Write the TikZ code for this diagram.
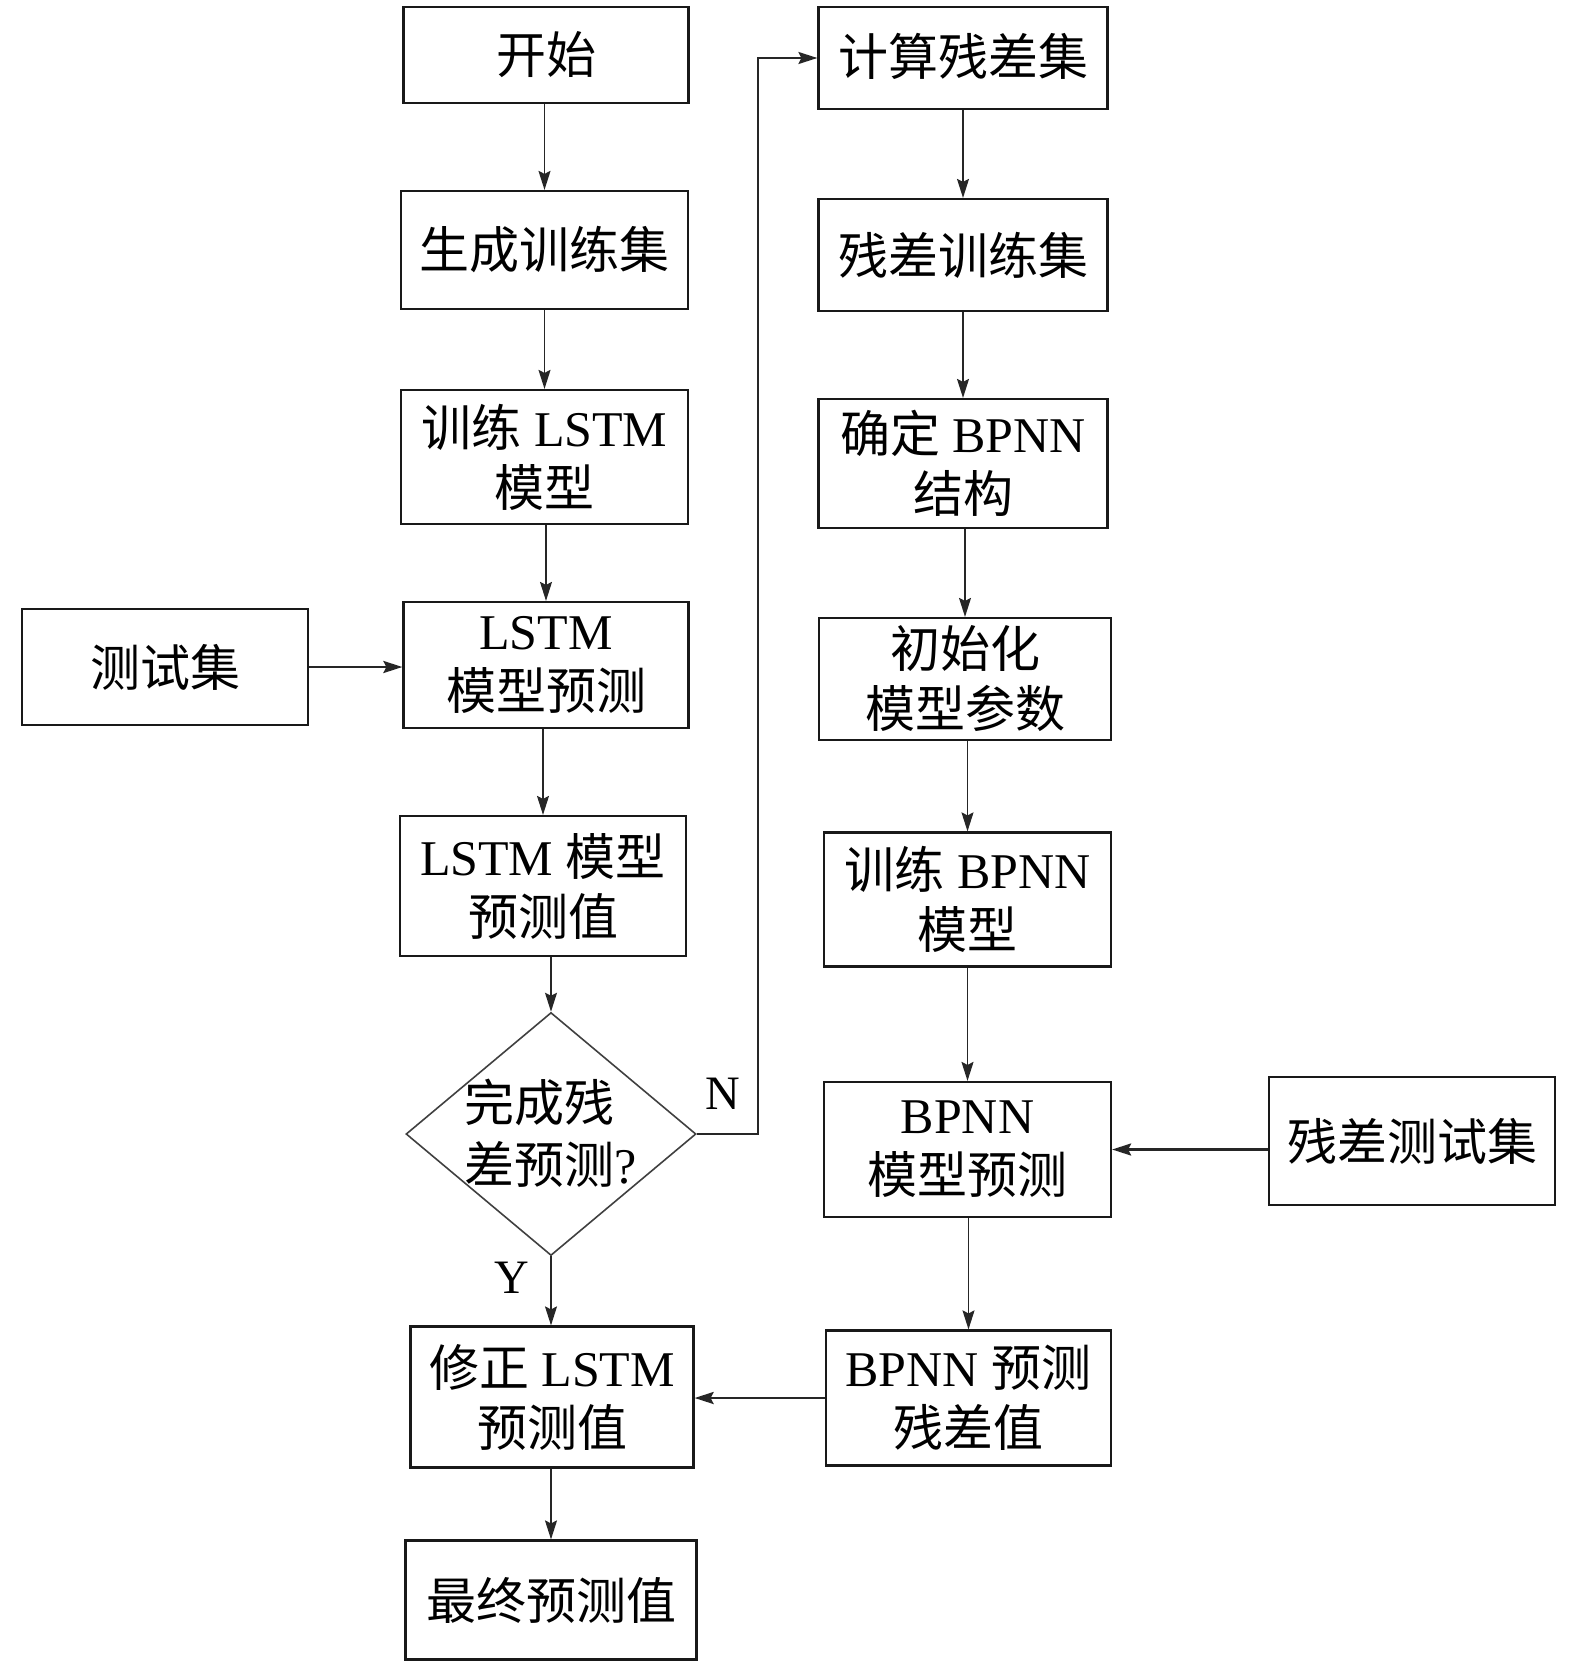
\documentclass[tikz,border=0pt]{standalone}
\usepackage{fontspec}
\setmainfont{Liberation Serif}
\newfontfamily\cjk{Noto Sans CJK SC}
\usetikzlibrary{arrows.meta,shapes.geometric}
\newcommand\zh[1]{{\cjk #1}}
\begin{document}
\begin{tikzpicture}[x=1pt,y=-1pt,
  box/.style={draw=black!90, line width=2.2pt, inner sep=0pt, align=center,
    font=\fontsize{50}{60}\selectfont},
  decbox/.style={draw=black!75, line width=1.6pt, diamond, aspect=1.19,
    inner sep=-8pt, align=left, font=\fontsize{50}{60}\selectfont},
  arr/.style={draw=black!85, line width=1.5pt,
    -{Stealth[length=19pt,width=12pt,inset=3pt]}},
  thickarr/.style={arr, line width=2.6pt},
  lbl/.style={font=\fontsize{48}{50}\selectfont, inner sep=0pt}]
\useasboundingbox (0,0) rectangle (1575,1665);

% left column
\node[box, minimum width=285pt, minimum height=96pt]  (start)  at (546,55)    {\raisebox{4pt}{\zh{开始}}};
\node[box, minimum width=287pt, minimum height=118pt] (gen)    at (544.5,250) {\zh{生成训练集}};
\node[box, minimum width=287pt, minimum height=134pt] (trainL) at (544.5,457) {\zh{训练} LSTM\\\zh{模型}};
\node[box, minimum width=286pt, minimum height=116pt] (test)   at (165,667)   {\zh{测试集}};
\node[box, minimum width=285pt, minimum height=126pt] (lpred)  at (546,665)   {LSTM\\\zh{模型预测}};
\node[box, minimum width=286pt, minimum height=140pt] (lval)   at (543,886)   {LSTM \zh{模型}\\\zh{预测值}};
\node[decbox, minimum width=290pt, minimum height=243pt] (dec) at (551,1134)  {\raisebox{8pt}{\zh{完成残}}\\\raisebox{6pt}{\zh{差预测}?}};
\node[box, minimum width=283pt, minimum height=141pt] (fix)    at (552,1397)  {\zh{修正} LSTM\\\zh{预测值}};
\node[box, minimum width=291pt, minimum height=119pt] (final)  at (551,1600)  {\zh{最终预测值}};

% right column
\node[box, minimum width=289pt, minimum height=102pt] (res)    at (963,58)    {\raisebox{7pt}{\zh{计算残差集}}};
\node[box, minimum width=289pt, minimum height=112pt] (rtrain) at (963,255)   {\raisebox{4pt}{\zh{残差训练集}}};
\node[box, minimum width=289pt, minimum height=129pt] (struct) at (963,463.5) {\zh{确定} BPNN\\\zh{结构}};
\node[box, minimum width=292pt, minimum height=122pt] (init)   at (965,679)   {\zh{初始化}\\\zh{模型参数}};
\node[box, minimum width=287pt, minimum height=134pt] (trainB) at (967.5,899.5) {\zh{训练} BPNN\\\zh{模型}};
\node[box, minimum width=287pt, minimum height=135pt] (bpred)  at (967.5,1149.5) {BPNN\\\zh{模型预测}};
\node[box, minimum width=286pt, minimum height=128pt] (rtest)  at (1412,1141)  {\zh{残差测试集}};
\node[box, minimum width=285pt, minimum height=135pt] (bval)   at (968.5,1398) {BPNN \zh{预测}\\\zh{残差值}};

\coordinate (nx) at (758,0);

% left column arrows
\draw[arr] (start.south -| gen.north) -- (gen.north);
\draw[arr] (gen.south -| trainL.north) -- (trainL.north);
\draw[arr] (trainL.south -| lpred.north) -- (lpred.north);
\draw[thickarr] (test.east) -- (test.east -| lpred.west);
\draw[arr] (lpred.south -| lval.north) -- (lval.north);
\draw[arr] (lval.south -| dec.north) -- (dec.north);
\draw[arr] (dec.south) -- (dec.south |- fix.north);
\draw[arr] (fix.south -| final.north) -- (final.north);

% N branch
\draw[arr, line width=2pt] (dec.east) -- (dec.east -| nx) |- (res.west);

% right column arrows
\draw[arr] (res.south -| rtrain.north) -- (rtrain.north);
\draw[arr] (rtrain.south -| struct.north) -- (struct.north);
\draw[arr] (struct.south -| init.north) -- (init.north);
\draw[arr] (init.south -| trainB.north) -- (trainB.north);
\draw[arr] (trainB.south -| bpred.north) -- (bpred.north);
\draw[thickarr] (rtest.west |- bpred.east) -- (bpred.east);
\draw[arr] (bpred.south -| bval.north) -- (bval.north);
\draw[thickarr] (bval.west) -- (bval.west -| fix.east);

% labels
\node[lbl] (nlab) at (723,1094) {N};
\node[lbl] (ylab) at (512,1278) {Y};
\end{tikzpicture}
\end{document}
